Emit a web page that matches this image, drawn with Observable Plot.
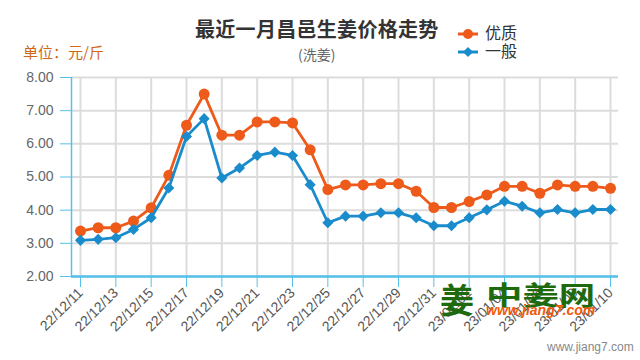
<!DOCTYPE html>
<html>
<head>
<meta charset="utf-8">
<script src="https://cdn.jsdelivr.net/npm/d3@7"></script>
<script src="https://cdn.jsdelivr.net/npm/@observablehq/plot@0.6"></script>
<style>
  html, body { margin: 0; padding: 0; background: #fff; }
  #wrap { position: relative; width: 640px; height: 360px; overflow: hidden; font-family: "Liberation Sans", "Noto Sans CJK SC", sans-serif; }
  #wrap svg.plot { position: absolute; left: 0; top: 0; }
  .abs { position: absolute; white-space: nowrap; line-height: 1; }
  .leg { position: absolute; left: 485px; white-space: nowrap; font-size: 16px; font-family: "Liberation Sans", "Noto Sans CJK SC", sans-serif; color: #333; line-height: 16px; height: 16px; }
</style>
</head>
<body>
<div id="wrap">
  <div class="abs" style="left:195px;top:14px;font:bold 20px 'Noto Sans CJK SC';color:#333;letter-spacing:0.3px;">最近一月昌邑生姜价格走势</div>
  <div class="abs" style="left:298px;top:44px;font:14px 'Noto Sans CJK SC';color:#666;">(洗姜)</div>
  <div class="abs" style="left:23px;top:41px;font:15px 'Noto Sans CJK SC';color:#d0661a;">单位：元/斤</div>
  <svg class="abs" style="left:455px;top:25px;" width="26" height="36">
    <line x1="3" x2="23" y1="9" y2="9" stroke="#ee5a1a" stroke-width="3"/>
    <circle cx="13" cy="9" r="5" fill="#ee5a1a"/>
    <line x1="3" x2="23" y1="27" y2="27" stroke="#1a8ccc" stroke-width="3"/>
    <path d="M13,22 L18,27 L13,32 L8,27 Z" fill="#1a8ccc"/>
  </svg>
  <div id="leg0" class="leg" style="top:26px;"></div>
  <div id="leg1" class="leg" style="top:44px;"></div>
</div>
<script>
const dates = [
  "2022-12-11","2022-12-12","2022-12-13","2022-12-14","2022-12-15","2022-12-16","2022-12-17",
  "2022-12-18","2022-12-19","2022-12-20","2022-12-21","2022-12-22","2022-12-23","2022-12-24",
  "2022-12-25","2022-12-26","2022-12-27","2022-12-28","2022-12-29","2022-12-30","2022-12-31",
  "2023-01-01","2023-01-02","2023-01-03","2023-01-04","2023-01-05","2023-01-06","2023-01-07",
  "2023-01-08","2023-01-09","2023-01-10"
];
const premium = [
  3.37,3.47,3.47,3.67,4.07,5.05,6.56,7.50,6.26,6.26,6.66,6.66,6.63,5.82,
  4.62,4.76,4.76,4.80,4.80,4.57,4.08,4.08,4.26,4.46,4.72,4.72,4.51,4.76,4.72,4.72,4.66
];
const ordinary = [
  3.09,3.12,3.17,3.42,3.77,4.67,6.22,6.76,4.97,5.27,5.65,5.75,5.65,4.77,
  3.62,3.82,3.82,3.92,3.92,3.77,3.53,3.53,3.77,4.01,4.27,4.12,3.92,4.02,3.92,4.02,4.02
];
const xTickLabels = [
  "22/12/11","22/12/13","22/12/15","22/12/17","22/12/19","22/12/21","22/12/23","22/12/25",
  "22/12/27","22/12/29","22/12/31","23/01/02","23/01/04","23/01/06","23/01/08","23/01/10"
];
const yTicks = [2, 3, 4, 5, 6, 7, 8];
const seriesNames = ["优质", "一般"];

document.getElementById("leg0").textContent = seriesNames[0];
document.getElementById("leg1").textContent = seriesNames[1];

const parse = d3.utcParse("%Y-%m-%d");
const fmt = d3.utcFormat("%y/%m/%d");
const parseTick = d3.utcParse("%y/%m/%d");
const xTicks = xTickLabels.map(parseTick);

const rowsA = dates.map((d, i) => ({date: parse(d), value: premium[i], series: seriesNames[0]}));
const rowsB = dates.map((d, i) => ({date: parse(d), value: ordinary[i], series: seriesNames[1]}));

const orange = "#ee5a1a";
const blue = "#1a8ccc";
const axisBlue = "#55c0ea";
const gridGray = "#dcdcdc";

const chart = Plot.plot({
  width: 640,
  height: 360,
  marginTop: 77,
  marginBottom: 84,
  marginLeft: 71,
  marginRight: 22,
  style: {fontFamily: "'Liberation Sans', Arial, sans-serif", background: "transparent"},
  x: {type: "utc", domain: [parse(dates[0]), parse(dates[dates.length - 1])], insetLeft: 9, insetRight: 8},
  y: {domain: [2, 8]},
  marks: [
    Plot.gridY({ticks: yTicks, stroke: gridGray, strokeOpacity: 1, strokeWidth: 2}),
    Plot.gridX({ticks: xTicks, stroke: gridGray, strokeOpacity: 1, strokeWidth: 2}),
    Plot.axisY({ticks: yTicks, tickFormat: d3.format(".2f"), tickSize: 11, tickPadding: 7,
      stroke: axisBlue, fill: "#666", fontSize: 14, label: null}),
    Plot.axisX({ticks: xTicks, tickFormat: fmt, tickRotate: -45, tickSize: 11, tickPadding: 3,
      stroke: axisBlue, fill: "#555", fontSize: 14, label: null}),
    Plot.ruleX([parse(dates[0])], {dx: -9, stroke: axisBlue, strokeWidth: 1.5}),
    Plot.ruleY([2], {stroke: axisBlue, strokeWidth: 2.5}),
    Plot.lineY(rowsA, {x: "date", y: "value", stroke: orange, strokeWidth: 2.8}),
    Plot.dot(rowsA, {x: "date", y: "value", r: 5.5, fill: orange, stroke: "none"}),
    Plot.lineY(rowsB, {x: "date", y: "value", stroke: blue, strokeWidth: 2.8}),
    Plot.dot(rowsB, {x: "date", y: "value", r: 5, symbol: "diamond2", fill: blue, stroke: "none"})
  ]
});
chart.classList.add("plot");
const wrap = document.getElementById("wrap");
wrap.insertBefore(chart, wrap.firstChild);

// watermark overlay
const wm = document.createElement("div");
wm.innerHTML =
  '<div class="abs" style="left:440px;top:274px;font:bold 34px \'Noto Sans CJK SC\';color:#1d6b0e;">姜</div>' +
  '<div class="abs" style="left:486px;top:275px;font:bold 26px \'Noto Sans CJK SC\';color:#1d6b0e;transform:scaleX(1.4);transform-origin:left top;">中姜网</div>' +
  '<div class="abs" style="left:486px;top:302px;font:italic bold 14px \'Liberation Sans\';color:#f05a0a;">www.jiang7.com</div>' +
  '<div class="abs" style="left:547px;top:340px;font:12px \'Liberation Sans\';color:#888;">www.jiang7.com</div>';
wrap.appendChild(wm);
</script>
</body>
</html>
